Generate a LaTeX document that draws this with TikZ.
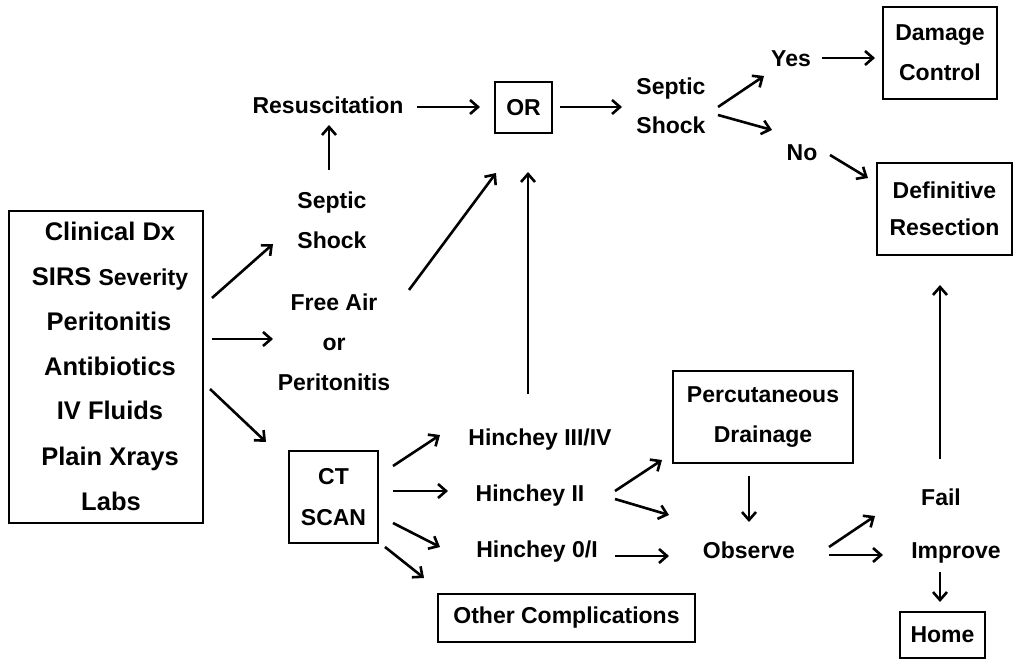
\documentclass[tikz,border=0pt]{standalone}
\usepackage{fontspec}
\setmainfont{Liberation Sans}
\usetikzlibrary{arrows.meta,calc}
\begin{document}
\begin{tikzpicture}[x=1pt,y=-1pt,
  arr/.style={line width=2.6pt,-{Straight Barb[length=8pt,width=14pt]}},
  lbl/.style={font=\fontsize{23}{23}\selectfont\bfseries, inner sep=0pt, text height=16.5pt, text depth=0pt},
  mlbl/.style={font=\fontsize{23}{#1}\selectfont\bfseries, align=center, inner sep=0pt},
  mlbl/.default=40,
  boxed/.style={draw, line width=2.8pt, inner sep=0pt, align=center, font=\fontsize{23}{#1}\selectfont\bfseries},
  boxed/.default=40,
  leftline/.style={font=\fontsize{25.5}{25.5}\selectfont\bfseries, inner sep=0pt, anchor=base}
]
\useasboundingbox (0,0) rectangle (1013,660);

% left box
\node[boxed, minimum width=194pt, minimum height=312pt] (left) at (106,367) {};
\node[leftline] (l1) at (110,241) {Clinical Dx};
\node[leftline] (l2) at (110,286) {SIRS {\fontsize{23}{23}\selectfont Severity}};
\node[leftline] (l3) at (109,331) {Peritonitis};
\node[leftline] (l4) at (110,376) {Antibiotics};
\node[leftline] (l5) at (110,420) {IV Fluids};
\node[leftline] (l6) at (110,465) {Plain Xrays};
\node[leftline] (l7) at (111,510) {Labs};

% middle column
\node[mlbl] (ss1) at (332,220) {Septic\\Shock};
\node[mlbl] (fa) at (334,342) {Free Air\\or\\Peritonitis};
\node[boxed=41, minimum width=89pt, minimum height=92pt] (ct) at (333.5,497) {CT\\SCAN};
\node[lbl] (res) at (328,105) {Resuscitation};
\node[boxed, minimum width=57pt, minimum height=51pt] (or) at (523.5,107.5) {OR};

% hinchey
\node[lbl] (h34) at (540,437) {Hinchey III/IV};
\node[lbl] (h2) at (530,493) {Hinchey II};
\node[lbl] (h01) at (537,549) {Hinchey 0/I};
\node[boxed, minimum width=257pt, minimum height=48pt] (oth) at (566.5,618) {Other Complications};

% right part
\node[mlbl=39] (ss2) at (671,106) {Septic\\Shock};
\node[lbl] (yes) at (791,58) {Yes};
\node[lbl] (no) at (802,152) {No};
\node[boxed, minimum width=114pt, minimum height=92pt] (dmg) at (940,53) {Damage\\Control};
\node[boxed=37, minimum width=135pt, minimum height=92pt] (def) at (944.5,209) {Definitive\\Resection};
\node[boxed, minimum width=180pt, minimum height=92pt] (perc) at (763,417) {Percutaneous\\Drainage};
\node[lbl] (obs) at (749,550) {Observe};
\node[lbl] (fail) at (941,497) {Fail};
\node[lbl] (imp) at (956,550) {Improve};
\node[boxed, minimum width=85pt, minimum height=46pt] (home) at (942.5,635) {Home};

% arrows
\draw[arr] ($(left)+(106,-69)$) -- ($(ss1)+(-59,24)$);
\draw[arr] ($(left)+(106,-28)$) -- ($(fa)+(-61,-3)$);
\draw[arr] ($(left)+(104,22)$) -- ($(ct)+(-67.5,-55)$);
\draw[arr] ($(ss1)+(-3,-50)$) -- ($(res)+(1,20)$);
\draw[arr] ($(res)+(89,2)$) -- ($(or)+(-43.5,-0.5)$);
\draw[arr] ($(fa)+(75,-52)$) -- ($(or)+(-27.5,65.5)$);
\draw[arr] ($(h34)+(-12,-43)$) -- ($(or)+(4.5,64.5)$);
\draw[arr] ($(or)+(36.5,-0.5)$) -- ($(ss2)+(-49,1)$);
\draw[arr] ($(ss2)+(47,1)$) -- ($(yes)+(-27,18)$);
\draw[arr] ($(ss2)+(47,9)$) -- ($(no)+(-30,-22)$);
\draw[arr] ($(yes)+(31,0)$) -- ($(dmg)+(-65,5)$);
\draw[arr] ($(no)+(28,3)$) -- ($(def)+(-76.5,-31)$);
\draw[arr] ($(fail)+(-1,-38)$) -- ($(def)+(-4.5,76)$);
\draw[arr] ($(imp)+(-16,22)$) -- ($(home)+(-2.5,-33)$);
\draw[arr] ($(obs)+(80,-3)$) -- ($(fail)+(-66,19)$);
\draw[arr] ($(obs)+(80,5)$) -- ($(imp)+(-73,5)$);
\draw[arr] ($(ct)+(59.5,-31)$) -- ($(h34)+(-100,-2)$);
\draw[arr] ($(ct)+(59.5,-6)$) -- ($(h2)+(-82,-2)$);
\draw[arr] ($(ct)+(59.5,26)$) -- ($(h01)+(-97,-2)$);
\draw[arr] ($(ct)+(51.5,50)$) -- ($(oth)+(-142.5,-40)$);
\draw[arr] ($(h2)+(85,-2)$) -- ($(perc)+(-101,43)$);
\draw[arr] ($(h2)+(85,6)$) -- ($(obs)+(-80,-35)$);
\draw[arr] ($(h01)+(78,7)$) -- ($(obs)+(-80,6)$);
\draw[arr] ($(perc)+(-14,59)$) -- ($(obs)+(0,-28)$);
\end{tikzpicture}
\end{document}
